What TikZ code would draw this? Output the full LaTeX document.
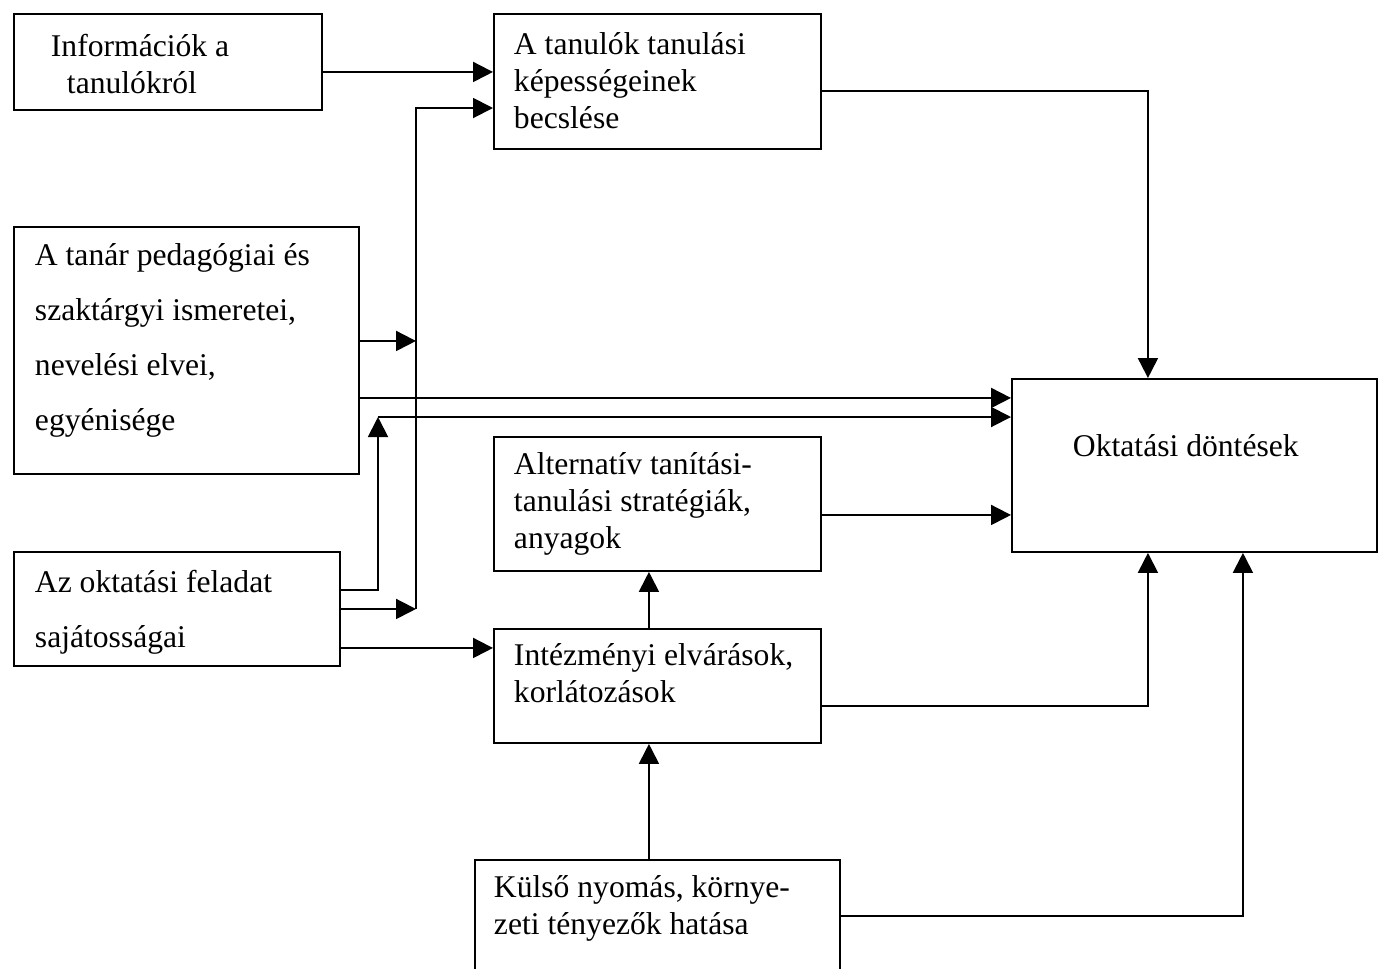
\documentclass[tikz,border=0pt]{standalone}
\usepackage{fontspec}
\setmainfont{Liberation Serif}
\usetikzlibrary{arrows.meta}
\tikzset{>=latex}

\begin{document}
\begin{tikzpicture}[x=0.02cm, y=-0.02cm, line width=1.1pt,
    box/.style={draw, inner sep=0pt, anchor=north west},
    txt/.style={font=\fontsize{18pt}{20.8pt}\selectfont, align=left, inner sep=0pt, anchor=base west},
    wide/.style={font=\fontsize{18pt}{31.2pt}\selectfont},
    arr/.style={-{Triangle[length=0.4cm, width=0.4cm]}}]

\useasboundingbox (0,0) rectangle (1378,968);
\clip (0,0) rectangle (1378,968);

% Boxes
\node[box, minimum width=6.16cm, minimum height=1.92cm] (info) at (13,13) {};
\node[box, minimum width=6.54cm, minimum height=2.70cm] (becsl) at (493,13) {};
\node[box, minimum width=6.90cm, minimum height=4.94cm] (tanar) at (13,226) {};
\node[box, minimum width=7.30cm, minimum height=3.46cm] (okt) at (1011,378) {};
\node[box, minimum width=6.54cm, minimum height=2.68cm] (alt) at (493,436) {};
\node[box, minimum width=6.52cm, minimum height=2.28cm] (az) at (13,551) {};
\node[box, minimum width=6.54cm, minimum height=2.28cm] (intez) at (493,628) {};
\node[box, minimum width=7.30cm, minimum height=2.24cm] (kulso) at (474,859) {};

% Texts (placed at the baseline of the last line)
\node[txt] (infotxt) at (50,93) {Információk a\\\hspace*{0.32cm}tanulókról};
\node[txt] (becsltxt) at (513,128) {A tanulók tanulási\\képességeinek\\becslése};
\node[txt, wide] (tanartxt) at (34,430) {A tanár pedagógiai és\\szaktárgyi ismeretei,\\nevelési elvei,\\egyénisége};
\node[txt] (okttxt) at (1072,456) {Oktatási döntések};
\node[txt] (alttxt) at (513,548) {Alternatív tanítási-\\tanulási stratégiák,\\anyagok};
\node[txt, wide] (aztxt) at (34,647) {Az oktatási feladat\\sajátosságai};
\node[txt] (inteztxt) at (513,702) {Intézményi elvárások,\\korlátozások};
\node[txt] (kulsotxt) at (493,934) {Külső nyomás, környe-\\zeti tényezők hatása};

% Junctions
\coordinate (busT) at (416,108);
\coordinate (upT) at (378,417);

% Connectors on the left
\draw[arr] ([yshift=-0.2cm]info.east) -- ([yshift=-0.2cm]info.east -| becsl.west);
\draw[arr] (az.east -| busT) -- (busT) -- (busT -| becsl.west);
\draw[arr] ([yshift=0.19cm]tanar.east) -- ([yshift=0.19cm]tanar.east -| busT);
\draw[arr] (az.east) -- (az.east -| busT);
\draw[arr] ([yshift=-0.95cm]tanar.east) -- ([yshift=-0.95cm]tanar.east -| okt.west);
\draw[arr] ([yshift=0.38cm]az.east) -| (upT);
\draw[arr] (upT) -- (upT -| okt.west);
\draw[arr] ([yshift=-0.78cm]az.east) -- ([yshift=-0.78cm]az.east -| intez.west);

% Connectors to the decisions
\draw[arr] ([yshift=-0.19cm]becsl.east) -| ([xshift=-0.93cm]okt.north);
\draw[arr] ([yshift=-0.22cm]alt.east) -- ([yshift=-0.22cm]alt.east -| okt.west);
\draw[arr] ([yshift=-0.4cm]intez.east) -| ([xshift=-0.93cm]okt.south);
\draw[arr] (kulso.east) -| ([xshift=0.97cm]okt.south);

% Vertical connectors
\draw[arr] ([xshift=-0.17cm]intez.north) -- ([xshift=-0.17cm]intez.north |- alt.south);
\draw[arr] ([xshift=-0.17cm]kulso.north) -- ([xshift=-0.17cm]kulso.north |- intez.south);
\end{tikzpicture}
\end{document}
